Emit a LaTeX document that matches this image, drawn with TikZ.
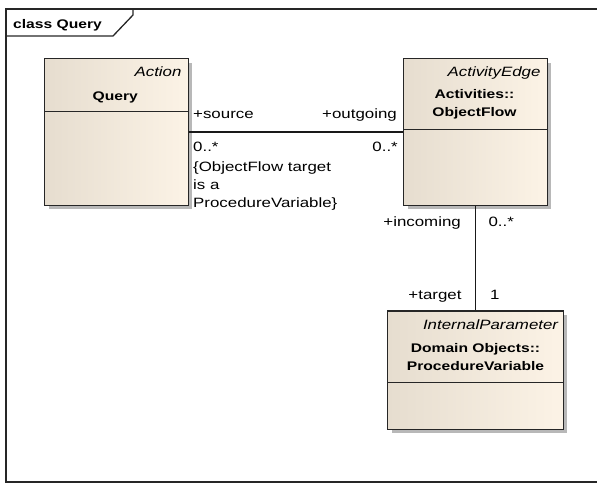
\documentclass[tikz,border=0pt]{standalone}
\usepackage{fontspec}
\setmainfont[FakeStretch=1.25]{Liberation Sans}
\usetikzlibrary{positioning,shadows,calc}

\definecolor{sabbiaS}{HTML}{E6DDCF}
\definecolor{sabbiaD}{HTML}{FCF3E6}

\begin{document}
\begin{tikzpicture}[x=1pt,y=-1pt,
    classe/.style={draw=black!85, line width=1.3pt, left color=sabbiaS, right color=sabbiaD,
        drop shadow={shadow xshift=4pt, shadow yshift=-4pt, fill=black!28, opacity=1}},
    bordo/.style={draw=black!85, line width=1.3pt},
    assoc/.style={draw=black!90, line width=1.1pt},
    testo/.style={inner sep=0pt, font=\fontsize{13.5}{18}\selectfont},
    grassetto/.style={inner sep=0pt, font=\fontsize{12.5}{18}\selectfont\bfseries},
    corsivo/.style={inner sep=0pt, font=\fontsize{13.5}{18}\selectfont\itshape}]

    % Area del disegno
    \useasboundingbox (0,0) rectangle (597,483);

    % Cornice e linguetta del diagramma
    \draw[bordo] (597,9) -| (6,482) -- (597,482);
    \draw[bordo] (6,36) -- (113,36) -- (133,15) -- (133,9);
    \node[grassetto, anchor=base west] (titolo) at (13,28) {class Query};

    % Classi
    \node[classe, minimum width=143.6pt, minimum height=146.4pt] (query) at (116.5,132) {};
    \node[classe, minimum width=143.4pt, minimum height=146.4pt] (flow) at (475.5,132) {};
    \node[classe, minimum width=175.4pt, minimum height=118.3pt] (procvar) at (475.5,370.2) {};

    % Separatori dei compartimenti
    \draw[bordo] ($(query.north west)+(0,53)$) -- ($(query.north east)+(0,53)$);
    \draw[bordo] ($(flow.north west)+(0,71)$) -- ($(flow.north east)+(0,71)$);
    \draw[bordo] ($(procvar.north west)+(0,72.3)$) -- ($(procvar.north east)+(0,72.3)$);

    % Nomi delle classi (base = ultima riga)
    \node[corsivo, anchor=base east] (qstereo) at (181.7,76.7) {Action};
    \node[grassetto, anchor=base] (qnome) at (115.3,100.7) {Query};
    \node[corsivo, anchor=base east] (fstereo) at (540.7,76) {ActivityEdge};
    \node[grassetto, anchor=base, align=center] (fnome) at (474.5,116.7) {Activities::\\ObjectFlow};
    \node[corsivo, anchor=base east] (pstereo) at (558.3,329) {InternalParameter};
    \node[grassetto, anchor=base, align=center] (pnome) at (475.5,370) {Domain Objects::\\ProcedureVariable};

    % Associazioni
    \draw[assoc] (query) -- (flow);
    \draw[assoc] (flow) -- (procvar);

    % Ruoli e molteplicita
    \node[testo, anchor=base west] (sorgente) at (193,118.3) {+source};
    \node[testo, anchor=base east] (uscente) at (397,118.3) {+outgoing};
    \node[testo, anchor=base west] (molts) at (193,151) {0..*};
    \node[testo, anchor=base east] (moltu) at (398,151) {0..*};
    \node[testo, anchor=base west, align=left] (vincolo) at (193,207) {\{ObjectFlow target\\is a\\ProcedureVariable\}};
    \node[testo, anchor=base east] (entrante) at (461,226.7) {+incoming};
    \node[testo, anchor=base west] (molte) at (488.3,226.7) {0..*};
    \node[testo, anchor=base east] (bersaglio) at (461.7,299.3) {+target};
    \node[testo, anchor=base west] (moltb) at (490,299.3) {1};
\end{tikzpicture}
\end{document}
